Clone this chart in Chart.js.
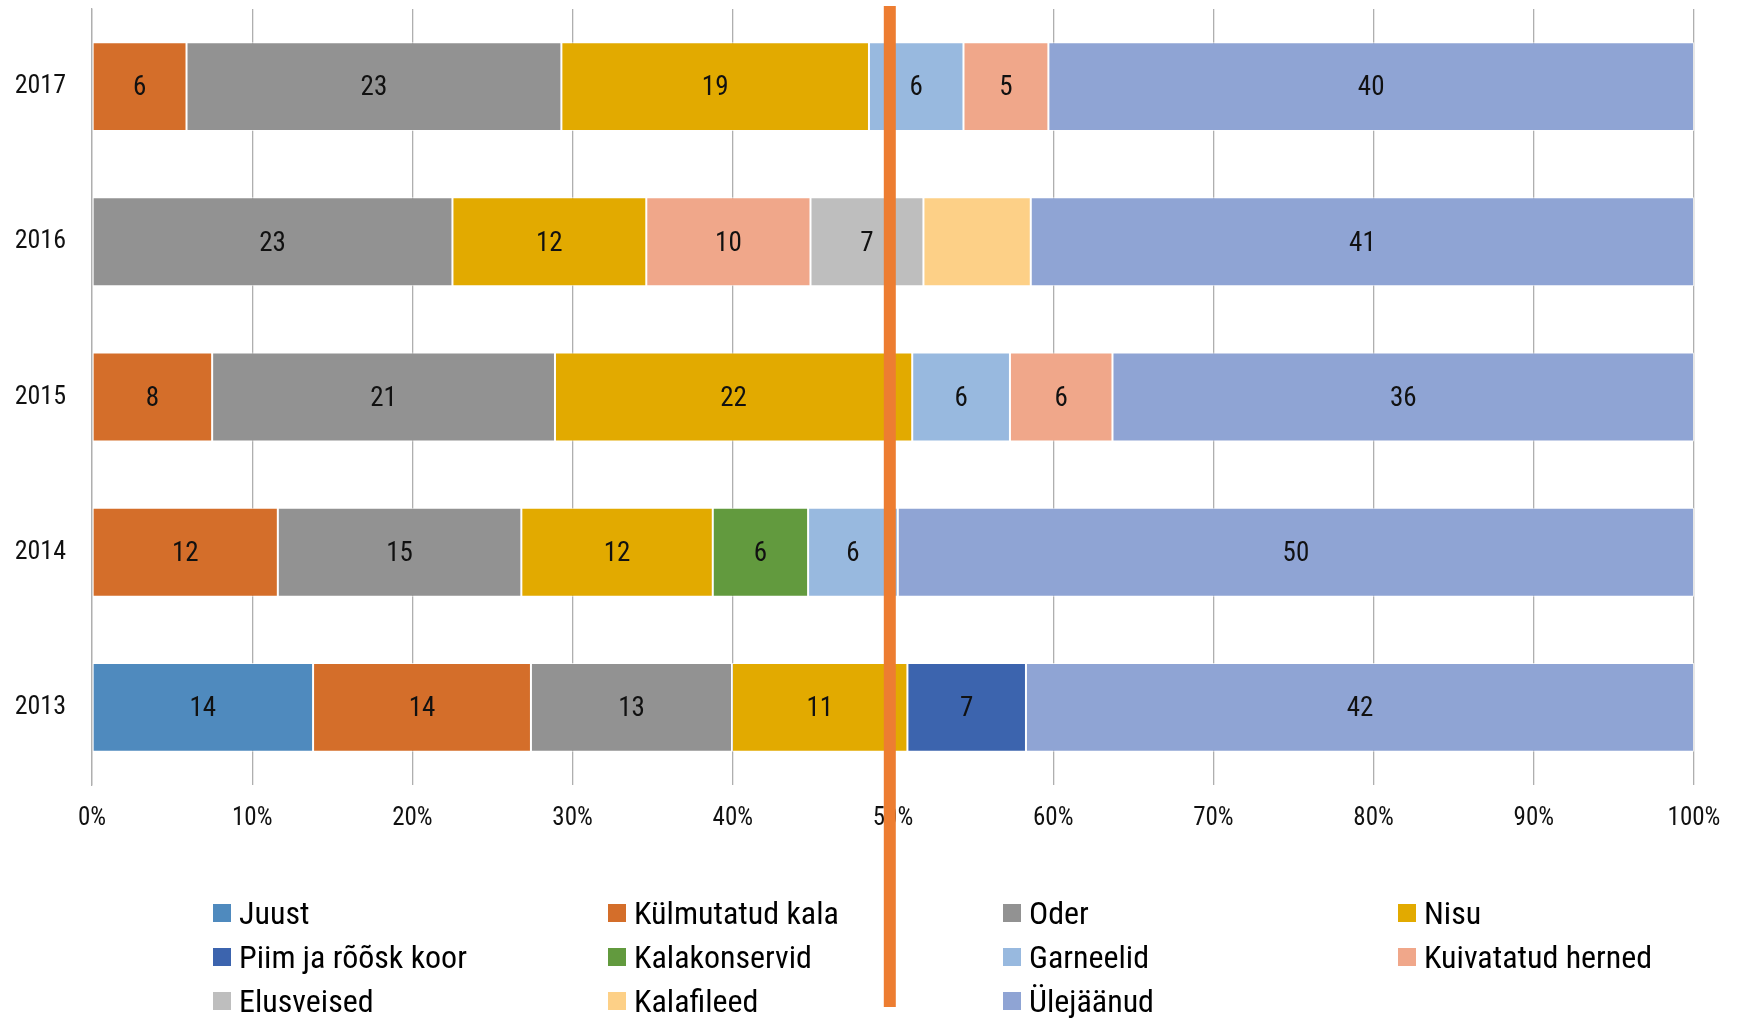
<!DOCTYPE html>
<html>
<head>
<meta charset="utf-8">
<script src="https://cdn.jsdelivr.net/npm/chart.js@4/dist/chart.umd.min.js"></script>
<style>
  html, body { margin: 0; padding: 0; background: #fff; }
  .wrap { position: relative; width: 1741px; height: 1018px; }
  canvas { position: absolute; left: 0; top: 0; }
  .legend {
    position: absolute; left: 213px; top: 891px;
    display: grid; grid-template-columns: repeat(4, 395px);
    font-family: "Roboto Condensed", "Liberation Sans Narrow", "DejaVu Sans Condensed", Roboto, sans-serif;
    font-size: 32px; color: #000;
  }
  .legend div { display: flex; align-items: center; height: 44px; white-space: nowrap; }
  .legend span.box { width: 18px; height: 18px; margin-right: 8px; flex: none; }
</style>
</head>
<body>
<div class="wrap">
  <canvas id="chart" width="1741" height="1018"></canvas>
  <div class="legend" id="legend"></div>
</div>
<script>
const FONT = '"Roboto Condensed", "Liberation Sans Narrow", "DejaVu Sans Condensed", Roboto, sans-serif';

const years = ['2017', '2016', '2015', '2014', '2013'];
const xTicks = [0, 10, 20, 30, 40, 50, 60, 70, 80, 90, 100];

// shares per year, same order as years
const juust        = [0, 0, 0, 0, 13.8];
const kylmKala     = [5.9, 0, 7.5, 11.6, 13.6];
const oder         = [23.4, 22.5, 21.4, 15.2, 12.55];
const nisu         = [19.2, 12.1, 22.3, 11.95, 10.95];
const piim         = [0, 0, 0, 0, 7.4];
const kalakonserv  = [0, 0, 0, 5.95, 0];
const garneelid    = [5.9, 0, 6.1, 5.6, 0];
const herned       = [5.3, 10.25, 6.4, 0, 0];
const elusveised   = [0, 7.05, 0, 0, 0];
const kalafileed   = [0, 6.7, 0, 0, 0];
const ylejaanud    = [40.3, 41.4, 36.3, 49.7, 41.7];

const seriesNames = ['Juust', 'Külmutatud kala', 'Oder', 'Nisu', 'Piim ja rõõsk koor',
  'Kalakonservid', 'Garneelid', 'Kuivatatud herned', 'Elusveised', 'Kalafileed', 'Ülejäänud'];
const seriesData = [juust, kylmKala, oder, nisu, piim, kalakonserv, garneelid, herned, elusveised, kalafileed, ylejaanud];
const seriesColors = ['#4F8ABE', '#D46E2A', '#929292', '#E2AA00', '#3C64AE',
  '#629A3E', '#98B9DF', '#F0A78A', '#BEBEBE', '#FDD087', '#8FA4D4'];
const unlabelled = ['Kalafileed'];

const markerValue = 49.8; // vertical orange line, in %

const barLabels = {
  id: 'barLabels',
  afterDatasetsDraw(chart) {
    const ctx = chart.ctx;
    ctx.save();
    ctx.font = '27px ' + FONT;
    ctx.fillStyle = '#111';
    ctx.textAlign = 'center';
    ctx.textBaseline = 'middle';
    chart.data.datasets.forEach((ds, i) => {
      if (unlabelled.includes(ds.label)) return;
      const meta = chart.getDatasetMeta(i);
      meta.data.forEach((bar, j) => {
        const v = ds.data[j];
        if (!v) return;
        ctx.fillText(String(Math.round(v)), (bar.x + bar.base) / 2, bar.y + 2);
      });
    });
    ctx.restore();
  }
};

const markerLine = {
  id: 'markerLine',
  afterDraw(chart) {
    const ctx = chart.ctx;
    const x = chart.scales.x.getPixelForValue(markerValue);
    ctx.save();
    ctx.fillStyle = '#ED7D31';
    ctx.fillRect(x - 6, 6, 12, chart.height - 17);
    ctx.restore();
  }
};

new Chart(document.getElementById('chart'), {
  type: 'bar',
  data: {
    labels: years,
    datasets: seriesNames.map((name, i) => ({
      label: name,
      data: seriesData[i],
      backgroundColor: seriesColors[i],
      borderColor: 'rgba(255,255,255,0.7)',
      borderWidth: 1,
      borderSkipped: false,
      categoryPercentage: 1,
      barPercentage: 0.573,
    })),
  },
  options: {
    indexAxis: 'y',
    responsive: false,
    animation: false,
    layout: { padding: { top: 9, right: 47, left: 0, bottom: 0 } },
    plugins: {
      legend: { display: false },
      tooltip: { enabled: false },
    },
    scales: {
      x: {
        stacked: true,
        min: 0,
        max: 100,
        afterBuildTicks(scale) { scale.ticks = xTicks.map(v => ({ value: v })); },
        afterFit(scale) { scale.height = 233; },
        grid: { color: '#AFAFAF', lineWidth: 1.3, drawTicks: false },
        border: { display: false },
        ticks: {
          padding: 19,
          color: '#111',
          font: { family: FONT, size: 25 },
          callback: v => v + '%',
        },
      },
      y: {
        stacked: true,
        afterFit(scale) {
          // tick padding would otherwise push the plot area down
          scale.width = 92;
          scale.paddingTop = 0;
          scale.paddingBottom = 0;
        },
        grid: { display: false, drawTicks: false },
        border: { display: true, color: '#AFAFAF', width: 1.3 },
        ticks: {
          padding: 26,
          color: '#111',
          font: { family: FONT, size: 26 },
        },
      },
    },
  },
  plugins: [barLabels, markerLine],
});

const legendEl = document.getElementById('legend');
seriesNames.forEach((name, i) => {
  const item = document.createElement('div');
  const box = document.createElement('span');
  box.className = 'box';
  box.style.background = seriesColors[i];
  item.appendChild(box);
  item.appendChild(document.createTextNode(name));
  legendEl.appendChild(item);
});
</script>
</body>
</html>
